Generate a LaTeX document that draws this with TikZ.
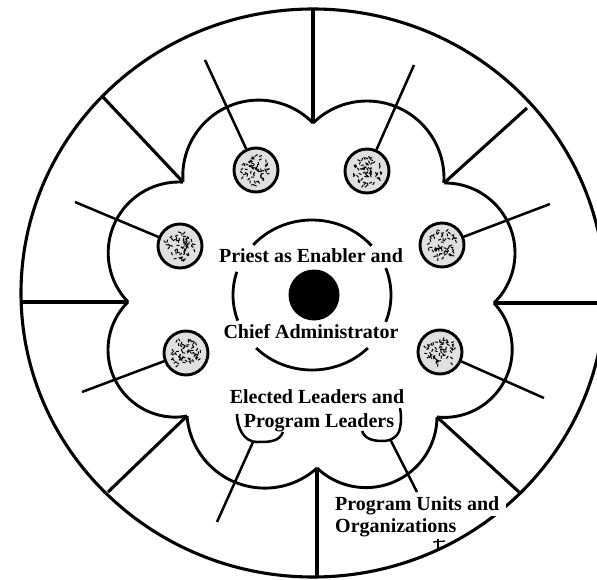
\documentclass[tikz,border=0pt]{standalone}
\usepackage{fontspec}
\setmainfont{Liberation Serif}
\usetikzlibrary{calc}
\begin{document}
\begin{tikzpicture}[x=1pt,y=1pt,
  outerline/.style={line width=3.1pt},
  lobe/.style={line width=2.9pt},
  spoke/.style={line width=3.1pt},
  link/.style={line width=2.5pt},
  ring/.style={line width=2.8pt},
  member/.style={circle, draw, line width=2.9pt, minimum size=44pt, inner sep=0pt, fill=black!12},
  label/.style={font=\bfseries\fontsize{20}{24}\selectfont, inner sep=0pt},
  speck/.style={line width=1pt}]
\useasboundingbox (0,0) rectangle (597,-580);
\clip (0,0) rectangle (597,-580);

% outer circle
\draw[outerline] (313,-293) ellipse [x radius=292, y radius=284];

% bottom text (white box cuts the outer circle)
\node[label, anchor=base west, fill=white, inner xsep=7pt, inner ysep=2pt] (t5) at (328,-510) {Program Units and};
\node[label, anchor=base west] (t6) at (335,-532) {Organizations};

% cusps and outer ends
\coordinate (c0) at (313,-123);
\coordinate (c1) at (444,-183);
\coordinate (c2) at (494,-303);
\coordinate (c3) at (437,-417);
\coordinate (c4) at (317,-468);
\coordinate (c5) at (187,-416);
\coordinate (c6) at (128,-302);
\coordinate (c7) at (183,-182);
\coordinate (o0) at (313,-9);
\coordinate (o1) at (527,-108);
\coordinate (o2) at (606,-303);
\coordinate (o3) at (519,-492);
\coordinate (o4) at (317,-577);
\coordinate (o5) at (108,-492);
\coordinate (o6) at (21,-302);
\coordinate (o7) at (102,-96);

% flower lobes
\foreach \cx/\cy/\r/\a/\b in {
  367/-178/77/134.5/-3.7,
  445/-253/70/90.8/-45.6,
  444.2/-349.4/68/43/-96.1,
  366/-416.6/71/-0.3/-133.6,
  264.8/-410.1/78/-48/-175.7,
  175.3/-349.8/67.3/-80/-225.3,
  179/-252.8/70.8/224/86.8,
  258.7/-176/75.9/184.5/44.3}
  \draw[lobe] (\cx,\cy) ++(\a:\r) arc[start angle=\a, end angle=\b, radius=\r];

% spokes
\foreach \i in {0,...,7}
  \draw[spoke] (o\i) -- (c\i);

% inner broken ring
\foreach \a/\b in {41/138, 162/200, -21/21, 225/315}
  \draw[ring] (312,-295) ++(\a:79 and 75) arc[start angle=\a, end angle=\b, x radius=79, y radius=75];

% central dot
\node[circle, fill=black, minimum size=51pt, inner sep=0pt] (dot) at (314,-295) {};

% member circles
\node[member] (sUL) at (256,-170) {};
\node[member] (sUR) at (367,-171) {};
\node[member] (sL)  at (180,-246) {};
\node[member] (sR)  at (442,-245) {};
\node[member] (sLL) at (186,-353) {};
\node[member] (sLR) at (440,-352) {};
\coordinate (eUL) at (205,-60);
\coordinate (eUR) at (414,-65);
\coordinate (eL)  at (75,-202);
\coordinate (eR)  at (550,-204);
\coordinate (eLL) at (82,-392);
\coordinate (eLR) at (544,-398);
\foreach \n in {UL,UR,L,R,LL,LR}
  \draw[link] (s\n) -- (e\n);

% texture in the member circles
\pgfmathsetseed{4242}
\foreach \n in {sUL,sUR,sL,sR,sLL,sLR}{
  \foreach \k in {1,...,60}{
    \pgfmathsetmacro\ang{rnd*360}
    \pgfmathsetmacro\rad{sqrt(rnd)*15}
    \pgfmathsetmacro\dir{rnd*360}
    \draw[speck] ($(\n)+(\ang:\rad)$) -- ++(\dir:3);
  }
}

% texts
\node[label, anchor=base] (t1) at (311,-262) {Priest as Enabler and};
\node[label, anchor=base] (t2) at (311,-338) {Chief Administrator};
\node[label, anchor=base] (t3) at (317,-403) {Elected Leaders and};
\node[label, anchor=base] (t4) at (319,-427) {Program Leaders};

% brackets under the leaders
\draw[link] (237,-414) to[out=-90,in=180] (257,-442) to[out=0,in=-110] (283,-432);
\draw[link] (362,-431) to[out=-70,in=180] (383,-441) to[out=0,in=-100] (400,-428) to[out=80,in=-80] (400,-408);
\coordinate (cupL) at (253,-442);
\coordinate (cupR) at (390,-439);
\coordinate (endL) at (217,-522);
\coordinate (endR) at (417,-492);
\draw[link] (cupL) -- (endL);
\draw[link] (cupR) -- (endR);

% small mark on the outer circle
\coordinate (ym) at (438,-549);
\draw[line width=1.6pt] (ym) -- ++(0,10);
\draw[line width=1.3pt] (433,-542) -- (445,-541);
\end{tikzpicture}
\end{document}
